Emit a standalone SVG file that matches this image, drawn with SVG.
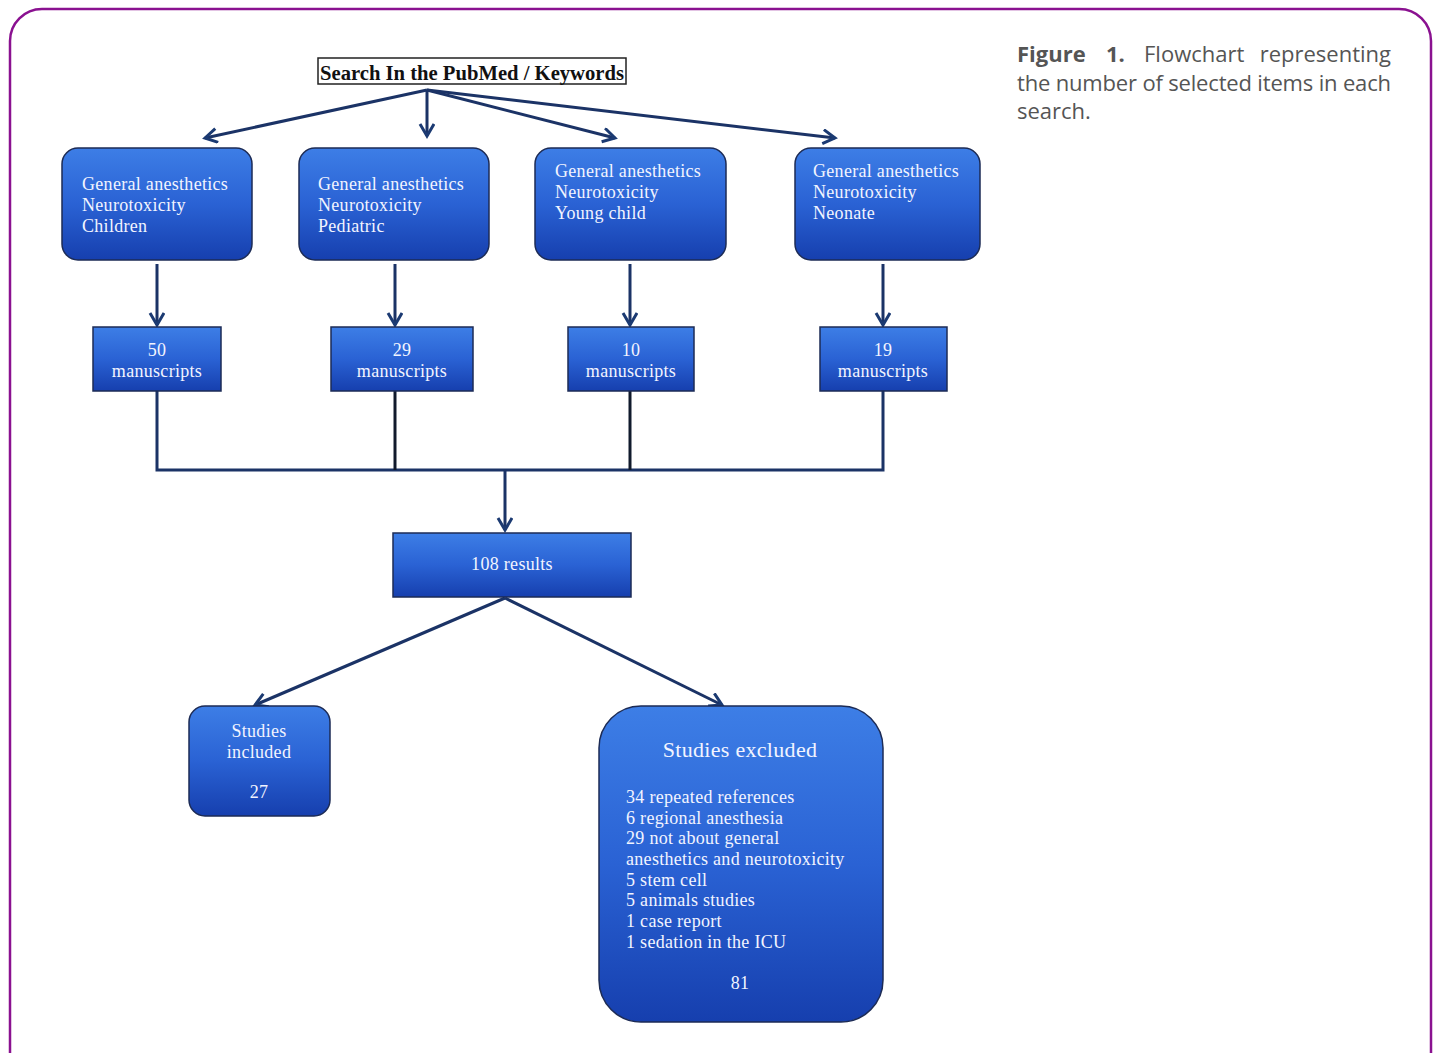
<svg xmlns="http://www.w3.org/2000/svg" width="1438" height="1053" viewBox="0 0 1438 1053">
<defs>
<linearGradient id="g" x1="0" y1="0" x2="0" y2="1">
<stop offset="0" stop-color="#3d7ee6"/>
<stop offset="0.5" stop-color="#2a62d4"/>
<stop offset="1" stop-color="#163fae"/>
</linearGradient>
<marker id="ah" markerUnits="userSpaceOnUse" markerWidth="20" markerHeight="20" refX="14" refY="8" orient="auto">
<path d="M2,1 L14,8 L2,15" fill="none" stroke="#1b3a72" stroke-width="3"/>
</marker>
<style>
.box{fill:url(#g);stroke:#1c2b55;stroke-width:1.5}
.t{font-family:"Liberation Serif","DejaVu Serif",serif;font-size:18px;letter-spacing:0.3px;fill:#f2f4ff}
.big{font-size:22px}
.c{text-anchor:middle}
.ln{fill:none;stroke:#1b3366;stroke-width:3}
.cap{font-family:"Open Sans","Noto Sans",sans-serif;font-size:22px;fill:#555}
</style>
</defs>
<rect x="10" y="9" width="1421" height="1080" rx="32" fill="#fff" stroke="#8a1190" stroke-width="2.5"/>

<g id="caption">
<text class="cap" x="1017" y="62" font-weight="bold">Figure</text>
<text class="cap" x="1106" y="62" font-weight="bold">1.</text>
<text class="cap" x="1144" y="62">Flowchart</text>
<text class="cap" x="1391" y="62" text-anchor="end">representing</text>
<text class="cap" x="1017" y="91" textLength="374" lengthAdjust="spacing">the number of selected items in each</text>
<text class="cap" x="1017" y="119">search.</text>
</g>

<g id="connectors">
<line class="ln" x1="427" y1="90" x2="205" y2="138" marker-end="url(#ah)"/>
<line class="ln" x1="427" y1="90" x2="427" y2="136" marker-end="url(#ah)"/>
<line class="ln" x1="427" y1="90" x2="615" y2="138" marker-end="url(#ah)"/>
<line class="ln" x1="427" y1="90" x2="835" y2="138" marker-end="url(#ah)"/>
<line class="ln" x1="157" y1="264" x2="157" y2="325" marker-end="url(#ah)"/>
<line class="ln" x1="395" y1="264" x2="395" y2="325" marker-end="url(#ah)"/>
<line class="ln" x1="630" y1="264" x2="630" y2="325" marker-end="url(#ah)"/>
<line class="ln" x1="883" y1="264" x2="883" y2="325" marker-end="url(#ah)"/>
<polyline class="ln" points="157,391 157,470 883,470 883,391"/>
<line class="ln" x1="395" y1="391" x2="395" y2="470" style="stroke:#111a2c"/>
<line class="ln" x1="630" y1="391" x2="630" y2="470" style="stroke:#111a2c"/>
<line class="ln" x1="505" y1="470" x2="505" y2="530" marker-end="url(#ah)"/>
<line class="ln" x1="505" y1="598" x2="255" y2="705" marker-end="url(#ah)"/>
<line class="ln" x1="505" y1="598" x2="722" y2="705" marker-end="url(#ah)"/>
</g>

<g id="search">
<rect x="318" y="58" width="308" height="26" fill="#fff" stroke="#222" stroke-width="1.5"/>
<text x="320" y="80" font-family="Liberation Serif, DejaVu Serif, serif" font-size="20" font-weight="bold" fill="#111" textLength="304" lengthAdjust="spacingAndGlyphs">Search In the PubMed / Keywords</text>
</g>

<g id="box-children">
<rect class="box" x="62" y="148" width="190" height="112" rx="16"/>
<text class="t" x="82" y="190">General anesthetics</text>
<text class="t" x="82" y="211">Neurotoxicity</text>
<text class="t" x="82" y="232">Children</text>
</g>
<g id="box-pediatric">
<rect class="box" x="299" y="148" width="190" height="112" rx="16"/>
<text class="t" x="318" y="190">General anesthetics</text>
<text class="t" x="318" y="211">Neurotoxicity</text>
<text class="t" x="318" y="232">Pediatric</text>
</g>
<g id="box-young">
<rect class="box" x="535" y="148" width="191" height="112" rx="16"/>
<text class="t" x="555" y="177">General anesthetics</text>
<text class="t" x="555" y="198">Neurotoxicity</text>
<text class="t" x="555" y="219">Young child</text>
</g>
<g id="box-neonate">
<rect class="box" x="795" y="148" width="185" height="112" rx="16"/>
<text class="t" x="813" y="177">General anesthetics</text>
<text class="t" x="813" y="198">Neurotoxicity</text>
<text class="t" x="813" y="219">Neonate</text>
</g>

<g id="m50">
<rect class="box" x="93" y="327" width="128" height="64"/>
<text class="t c" x="157" y="356">50</text>
<text class="t c" x="157" y="377">manuscripts</text>
</g>
<g id="m29">
<rect class="box" x="331" y="327" width="142" height="64"/>
<text class="t c" x="402" y="356">29</text>
<text class="t c" x="402" y="377">manuscripts</text>
</g>
<g id="m10">
<rect class="box" x="568" y="327" width="126" height="64"/>
<text class="t c" x="631" y="356">10</text>
<text class="t c" x="631" y="377">manuscripts</text>
</g>
<g id="m19">
<rect class="box" x="820" y="327" width="127" height="64"/>
<text class="t c" x="883" y="356">19</text>
<text class="t c" x="883" y="377">manuscripts</text>
</g>

<g id="results">
<rect class="box" x="393" y="533" width="238" height="64"/>
<text class="t c" x="512" y="570">108 results</text>
</g>

<g id="included">
<rect class="box" x="189" y="706" width="141" height="110" rx="16"/>
<text class="t c" x="259" y="737">Studies</text>
<text class="t c" x="259" y="758">included</text>
<text class="t c" x="259" y="798">27</text>
</g>

<g id="excluded">
<rect class="box" x="599" y="706" width="284" height="316" rx="42"/>
<text class="t c big" x="740" y="757">Studies excluded</text>
<text class="t" x="626" y="803">34 repeated references</text>
<text class="t" x="626" y="824">6 regional anesthesia</text>
<text class="t" x="626" y="844">29 not about general</text>
<text class="t" x="626" y="865">anesthetics and neurotoxicity</text>
<text class="t" x="626" y="886">5 stem cell</text>
<text class="t" x="626" y="906">5 animals studies</text>
<text class="t" x="626" y="927">1 case report</text>
<text class="t" x="626" y="948">1 sedation in the ICU</text>
<text class="t c" x="740" y="989">81</text>
</g>
</svg>
